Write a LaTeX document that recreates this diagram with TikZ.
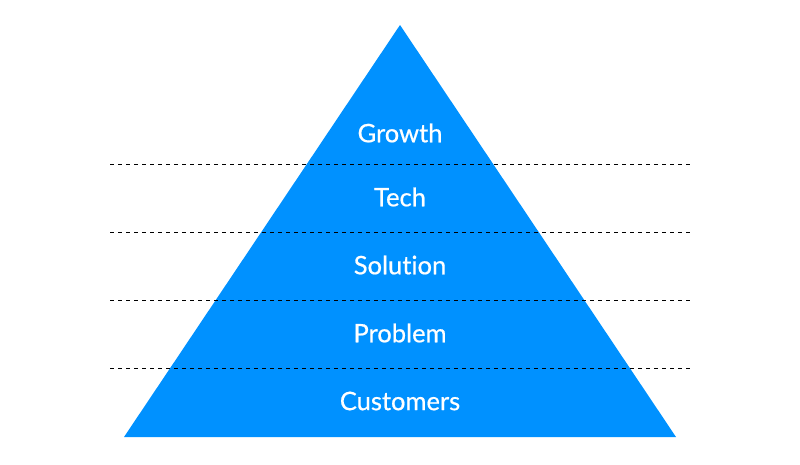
\documentclass[tikz,border=0pt]{standalone}
\usepackage{fontspec}
\setmainfont{Lato}[Ligatures=NoCommon, FakeBold=0.6]
\usepackage{tikz}
\usetikzlibrary{positioning}
\usepackage{xcolor}
\definecolor{pyblue}{RGB}{0,145,255}
\tikzstyle{layer} = [text=white, font=\fontsize{25.5}{28}\selectfont, inner sep=0pt]
\tikzstyle{divider} = [black, line width=0.9pt, dash pattern=on 4pt off 4pt]

\begin{document}
\begin{tikzpicture}[x=1pt, y=-1pt]
\useasboundingbox (0,0) rectangle (800,464);
% Pyramid
\fill[pyblue] (400,25) -- (676,437) -- (124,437) -- cycle;

% Layers
\node[layer] (growth) at (400,133) {Growth};
\node[layer] (tech) at (400,197) {Tech};
\node[layer] (solution) at (400,265) {Solution};
\node[layer] (problem) at (400,333) {Problem};
\node[layer] (customers) at (400,401) {Customers};

% Dividers
\coordinate (d1l) at (110,164); \coordinate (d1r) at (690,164);
\coordinate (d2l) at (110,232); \coordinate (d2r) at (690,232);
\coordinate (d3l) at (110,300); \coordinate (d3r) at (690,300);
\coordinate (d4l) at (110,368); \coordinate (d4r) at (690,368);
\draw[divider] (d1l) -- (d1r);
\draw[divider] (d2l) -- (d2r);
\draw[divider] (d3l) -- (d3r);
\draw[divider] (d4l) -- (d4r);
\end{tikzpicture}
\end{document}
